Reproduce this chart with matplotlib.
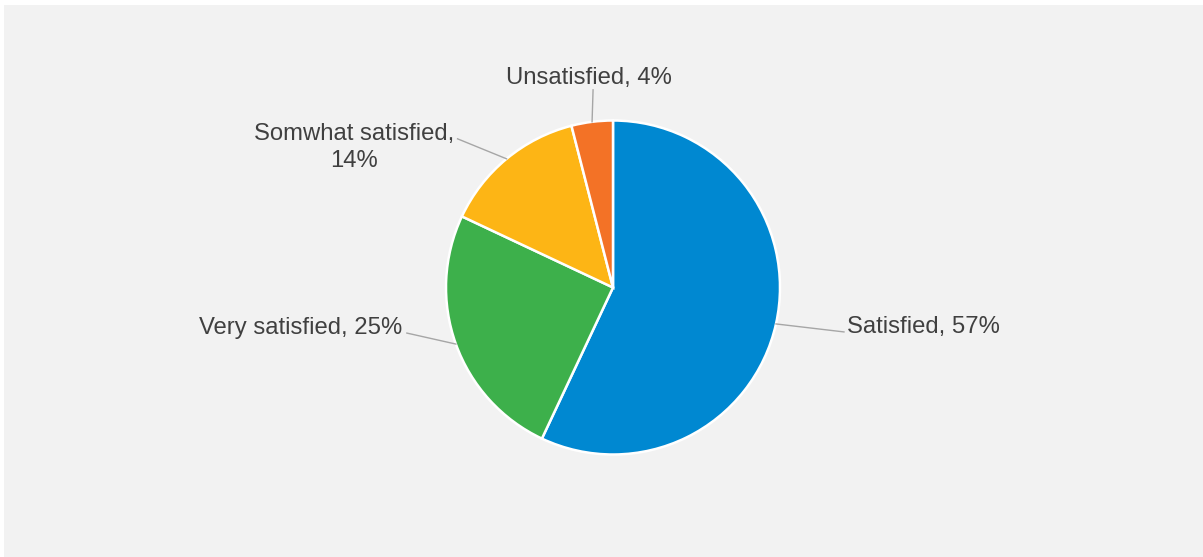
import numpy as np
import matplotlib.pyplot as plt
from matplotlib.patches import Rectangle

labels = ["Satisfied", "Very satisfied", "Somwhat satisfied,\n", "Unsatisfied"]
values = [57, 25, 14, 4]
colors = ["#0088D1", "#3DB04B", "#FDB515", "#F37226"]

W, H = 1203, 557
cx, cy, r = 613, H - 287.5, 167

fig = plt.figure(figsize=(W / 100, H / 100), dpi=100)
fig.patch.set_facecolor("white")
ax = fig.add_axes([0, 0, 1, 1])

ax.add_patch(Rectangle((4, 0), W - 4, H - 5, facecolor="#F2F2F2", edgecolor="none", zorder=0))

wedges, _ = ax.pie(values, colors=colors, startangle=90, counterclock=False,
                   center=(cx, cy), radius=r, frame=False,
                   wedgeprops=dict(edgecolor="white", linewidth=1.8))

# label placement: (line end dx, dy), text offset from line end, alignment
place = [
    ((68, -8), (3, -1), "left"),
    ((-49, 11), (-5, -1), "right"),
    ((-49, 20), (-3, 0), "right"),
    ((1, 32), (-4, 6), "center"),
]

tc = "#404040"
for w, v, lab, (lend, toff, ha) in zip(wedges, values, labels, place):
    mid = np.deg2rad((w.theta1 + w.theta2) / 2)
    x0 = cx + r * np.cos(mid)
    y0 = cy + r * np.sin(mid)
    x1, y1 = x0 + lend[0], y0 + lend[1]
    ax.plot([x0, x1], [y0, y1], color="#A6A6A6", lw=1, zorder=1)
    if lab.endswith("\n"):
        txt = f"{lab}{v}%"
        ax.text(x1 + toff[0], y1 + toff[1] - 28, txt, ha="right", va="baseline",
                multialignment="center", linespacing=1.3,
                fontsize=17.2, family="Liberation Sans", color=tc)
    else:
        ax.text(x1 + toff[0], y1 + toff[1], f"{lab}, {v}%", ha=ha, va="baseline",
                fontsize=17.2, family="Liberation Sans", color=tc)

ax.set_xlim(0, W)
ax.set_ylim(0, H)
ax.set_aspect("equal")
ax.axis("off")

fig.savefig("out.png", dpi=100, facecolor=fig.get_facecolor())
